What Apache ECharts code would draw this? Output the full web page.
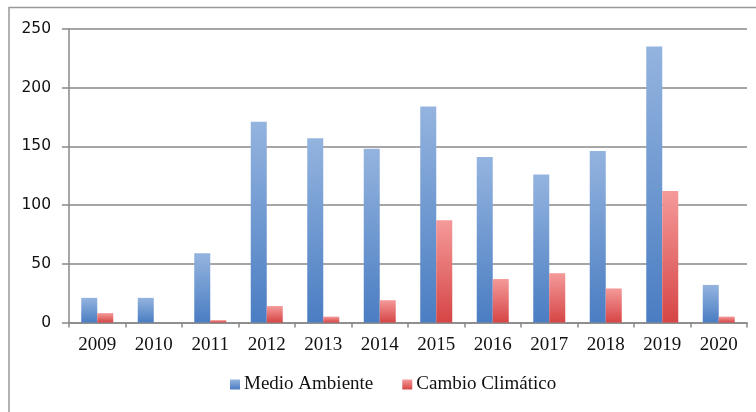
<!DOCTYPE html>
<html>
<head>
<meta charset="utf-8">
<script src="https://cdn.jsdelivr.net/npm/echarts@6/dist/echarts.min.js"></script>
<style>
html,body{margin:0;padding:0;background:#fff;}
#chart{width:756px;height:412px;}
</style>
</head>
<body>
<div id="chart"></div>
<script>
var categories = ['2009','2010','2011','2012','2013','2014','2015','2016','2017','2018','2019','2020'];
var medioAmbiente = [21, 21, 59, 171, 157, 148, 184, 141, 126, 146, 235, 32];
var cambioClimatico = [8, 0, 2, 14, 5, 19, 87, 37, 42, 29, 112, 5];
var yTicks = [0, 50, 100, 150, 200, 250];

var chart = echarts.init(document.getElementById('chart'), null, {renderer: 'canvas'});
var serif = '"Liberation Serif", "Times New Roman", serif';
var sans = '"DejaVu Sans", sans-serif';
var gridColor = '#888888';

function grad(top, bottom) {
  return new echarts.graphic.LinearGradient(0, 0, 0, 1, [
    {offset: 0, color: top},
    {offset: 1, color: bottom}
  ]);
}

chart.setOption({
  animation: false,
  backgroundColor: '#ffffff',
  graphic: [{
    type: 'rect',
    shape: {x: 9, y: 7.5, width: 800, height: 450},
    style: {fill: 'none', stroke: '#999999', lineWidth: 1.5},
    silent: true,
    z: -1
  }],
  grid: {left: 69, right: 9, top: 29, bottom: 89.5, containLabel: false},
  legend: {
    left: 230,
    top: 375,
    padding: 0,
    itemWidth: 10,
    itemHeight: 10,
    itemGap: 29,
    textStyle: {fontFamily: serif, fontSize: 19, color: '#111111', padding: [0, 0, 0, -1]},
    data: [
      {name: 'Medio Ambiente', icon: 'rect', itemStyle: {color: grad('#94b4df', '#4a7dc2')}},
      {name: 'Cambio Climático', icon: 'rect', itemStyle: {color: grad('#f59a9a', '#d64545')}}
    ]
  },
  xAxis: {
    type: 'category',
    data: categories,
    axisLine: {show: true, lineStyle: {color: gridColor, width: 1.5}},
    axisTick: {show: true, inside: false, length: 5, lineStyle: {color: gridColor, width: 1.5}},
    axisLabel: {fontFamily: serif, fontSize: 19, color: '#111111', margin: 13}
  },
  yAxis: {
    type: 'value',
    min: yTicks[0],
    max: yTicks[yTicks.length - 1],
    interval: 50,
    axisLine: {show: true, lineStyle: {color: gridColor, width: 1.5}},
    axisTick: {show: true, length: 7, lineStyle: {color: gridColor, width: 1.5}},
    splitLine: {show: true, lineStyle: {color: gridColor, width: 1.5}},
    axisLabel: {fontFamily: sans, fontSize: 15.5, color: '#111111', margin: 18}
  },
  series: [
    {
      name: 'Medio Ambiente',
      type: 'bar',
      data: medioAmbiente,
      barWidth: 16,
      barGap: '0%',
      itemStyle: {color: grad('#94b4df', '#4a7dc2')}
    },
    {
      name: 'Cambio Climático',
      type: 'bar',
      data: cambioClimatico,
      barWidth: 16,
      barGap: '0%',
      itemStyle: {color: grad('#f59a9a', '#d64545')}
    }
  ]
});
</script>
</body>
</html>
